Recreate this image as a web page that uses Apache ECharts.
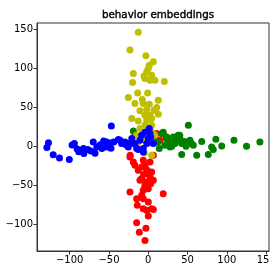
<!DOCTYPE html>
<html><head><meta charset="utf-8">
<script src="https://cdn.jsdelivr.net/npm/echarts@6/dist/echarts.min.js"></script>
<style>html,body{margin:0;padding:0;background:#fff}#c{width:270px;height:268px}</style>
</head><body><div id="c"></div>
<script>
const titleText = "behavior embeddings";
const xTicks = [-100, -50, 0, 50, 100, 150];
const yTicks = [-100, -50, 0, 50, 100, 150];
const redPoints = [[-23.3,-58.6],[19,-60.7],[-14.8,-67],[-14,-75.6],[-6.4,-67],[0,-71.4],[-6.4,-79.9],[-2,-82],[4.3,-80],[6.4,-81],[0,-89.3],[-14.8,-98],[-3,-105],[-11.4,-110],[-4.2,-120.5],[-23.3,-13.7],[-19,-20],[-17,-24.4],[-8.4,-26.5],[-4.2,-24.4],[2.2,-20],[4.3,-33],[6.4,-43.6],[-8.4,-41.4],[-2,-45.8],[-4.2,-50],[-10.6,-43.6],[-6.4,-56.4],[-8.4,-62.8],[-12.7,-30.8],[0,-35],[2.2,-39.3],[-4.2,-52.2],[0,-54.2],[-17,14],[-23,-11.5],[-6.4,-18],[6.4,-11.5],[15,7.7],[10.6,16.3],[-2,-30],[-6,-36],[3,-48]];
const greenPoints = [[51,27],[19,16],[23.4,12],[27.6,7.7],[31.8,12],[38,14],[40.3,9.8],[34,3.4],[21,1.3],[27.6,-0.9],[42.5,3.4],[53,7.7],[55,3.4],[57.3,1.3],[68,6],[80.6,-0.9],[82.7,-4.2],[86,9],[93.4,0.4],[109,7.7],[125,0],[142,5.5],[42.5,-10.5],[61.6,-11.5],[76.3,-10.5],[40,14],[17,16.3],[23,9.8],[-19,19.6],[19,18],[12,5],[30,0],[36,8],[46,6],[48,0],[14,-3],[25,4],[8,12]];
const yellowPoints = [[-12.7,145.8],[-23.3,123],[-3,115.8],[6.4,108],[1.3,103.8],[0,99.6],[-2,95.3],[-19,93],[-20,81.7],[-4.2,86.8],[-5.5,90],[2.2,84.6],[8.5,84.6],[20.4,83],[4.3,91],[-13.5,68.3],[-0.8,68.3],[-25.4,62.4],[-17,54.7],[-7.6,59.9],[-6.4,54.7],[1.3,53.8],[12.7,59],[10.7,49.6],[-10.6,45.3],[-2,47],[7.3,46],[12.7,41],[-4.2,39.7],[2.2,39.7],[-21,35.5],[-12.7,32.4],[-2,33.3],[4.3,35.5],[-4.2,27],[4.3,27],[-10.6,22.7],[0,22],[-6,18],[5,18],[-8,12],[2,10],[-4,8],[-13.5,4.2],[-5,-8.6],[4.3,-11.5],[-15,14],[8,14],[0,4]];
const bluePoints = [[-127,4.5],[-129,-1.5],[-121,-11],[-113,-15],[-100.5,-17],[-97,1.5],[-94,3.5],[-90.5,-3.5],[-88.5,-7],[-82,-9.4],[-82.5,-3],[-77,-4],[-73,-6],[-70,5.5],[-65.5,-1],[-61,2],[-59,-3],[-56.8,6.8],[-53,5.5],[-52.5,-1],[-48.7,4.2],[-47.5,-2.5],[-47,26],[-44,5.5],[-67.8,-9],[-38,8.6],[-36,7.7],[-34,3.5],[-31.8,3.4],[-29.6,5.5],[-27.5,1.3],[-25.4,-1],[-24,3.5],[-21,9.8],[-19,3.5],[-17,3.4],[-14.8,-3],[-12.7,-4.2],[-10.6,7.7],[-8.4,14],[-6.4,-3],[-6.4,-7.3],[-2,3.4],[0,9.8],[2.2,16.3],[1.3,22.7],[6.4,3.4],[-4,18],[3,12]];

const fmt = v => String(v).replace('-', '\u2212');
const font = {fontFamily: 'DejaVu Sans', fontSize: 10, color: '#000'};
const axisCommon = {
  axisLine: {show: true, onZero: false, lineStyle: {color: '#333', width: 1}},
  axisTick: {show: true, length: 3.5, inside: false, lineStyle: {color: '#333'}},
  splitLine: {show: false}
};
const chart = echarts.init(document.getElementById('c'), null, {renderer: 'canvas'});
const mk = (name, data, color) => ({type: 'scatter', name, data, symbolSize: 7, itemStyle: {color, opacity: 1}, animation: false, silent: true});
chart.setOption({
  animation: false,
  title: {text: titleText, left: 153, top: 5, textAlign: 'center',
    textStyle: {fontFamily: 'DejaVu Sans', fontSize: 10.3, fontWeight: 'normal', color: '#000',
      textBorderColor: '#000', textBorderWidth: 0.4}},
  grid: {left: 37, top: 23, right: 1, bottom: 17, show: true, borderColor: '#333', borderWidth: 1,
    containLabel: false, outerBoundsMode: 'none'},
  xAxis: Object.assign({}, axisCommon, {type: 'value', min: -141.6, max: 153.6,
    axisTick: Object.assign({}, axisCommon.axisTick, {customValues: xTicks}),
    axisLabel: Object.assign({}, font, {customValues: xTicks, margin: 4, formatter: fmt, hideOverlap: false})}),
  yAxis: Object.assign({}, axisCommon, {type: 'value', min: -134, max: 157.7,
    axisTick: Object.assign({}, axisCommon.axisTick, {customValues: yTicks}),
    axisLabel: Object.assign({}, font, {customValues: yTicks, margin: 4, formatter: fmt})}),
  series: [
    mk('red', redPoints, '#ff0000'),
    mk('green', greenPoints, '#008000'),
    mk('yellow', yellowPoints, '#bfbf00'),
    mk('blue', bluePoints, '#0000ff')
  ]
});
</script></body></html>
